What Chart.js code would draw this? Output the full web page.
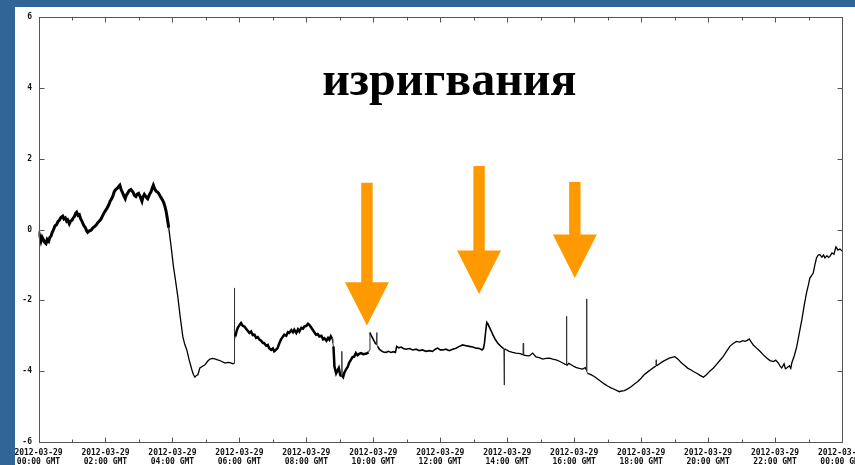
<!DOCTYPE html>
<html>
<head>
<meta charset="utf-8">
<script src="https://cdn.jsdelivr.net/npm/chart.js@4/dist/chart.umd.min.js"></script>
<style>
  html, body { margin: 0; padding: 0; overflow: hidden; width: 855px; height: 465px; background: #316497; }
  #panel { position: absolute; left: 15px; top: 7px; width: 900px; height: 458px; background: #fff; }
  canvas { display: block; }
</style>
</head>
<body>
<div id="panel"><canvas id="chart" width="900" height="458"></canvas></div>
<script>
// Hours since 2012-03-29 00:00 GMT
const hours = [
  0.00, 0.04, 0.075, 0.11, 0.143, 0.18, 0.224, 0.26, 0.305, 0.34, 0.373, 0.41, 0.442, 0.49, 0.544, 0.58, 0.621, 0.67, 0.723, 0.76,
  0.80, 0.84, 0.872, 0.92, 0.96, 1.00, 1.04, 1.07, 1.11, 1.14, 1.18, 1.22, 1.26, 1.30, 1.35, 1.40, 1.44, 1.47, 1.52, 1.57,
  1.62, 1.67, 1.72, 1.77, 1.82, 1.87, 1.92, 1.97, 2.02, 2.07, 2.11, 2.14, 2.18, 2.22, 2.26, 2.29, 2.33, 2.37, 2.40, 2.43,
  2.47, 2.51, 2.55, 2.59, 2.62, 2.66, 2.71, 2.76, 2.80, 2.83, 2.87, 2.91, 2.95, 2.99, 3.04, 3.09, 3.12, 3.16, 3.21, 3.26,
  3.31, 3.36, 3.40, 3.43, 3.47, 3.51, 3.55, 3.59, 3.63, 3.66, 3.70, 3.74, 3.78, 3.81, 3.85, 3.89, 3.96, 4.03, 4.09, 4.16,
  4.23, 4.31, 4.37, 4.43, 4.50, 4.58, 4.63, 4.67, 4.72, 4.76, 4.82, 4.90, 4.97, 5.05, 5.12, 5.20, 5.27, 5.35, 5.42, 5.50,
  5.57, 5.65, 5.72, 5.80, 5.84, 5.85, 5.86, 5.88, 5.92, 5.95, 6.00, 6.05, 6.10, 6.15, 6.20, 6.25, 6.30, 6.35, 6.40, 6.45,
  6.50, 6.55, 6.60, 6.65, 6.70, 6.74, 6.80, 6.85, 6.89, 6.95, 7.00, 7.04, 7.09, 7.14, 7.19, 7.24, 7.29, 7.34, 7.40, 7.45,
  7.49, 7.55, 7.60, 7.64, 7.70, 7.75, 7.79, 7.85, 7.90, 7.94, 8.00, 8.05, 8.09, 8.14, 8.19, 8.24, 8.29, 8.34, 8.39, 8.45,
  8.50, 8.54, 8.60, 8.65, 8.69, 8.73, 8.77, 8.79, 8.81, 8.84, 8.89, 8.93, 8.97, 9.01, 9.04, 9.06, 9.07, 9.10, 9.13, 9.18,
  9.24, 9.28, 9.33, 9.38, 9.43, 9.48, 9.53, 9.58, 9.63, 9.70, 9.78, 9.86, 9.88, 9.90, 9.94, 9.98, 10.02, 10.06, 10.09, 10.10,
  10.11, 10.13, 10.18, 10.23, 10.30, 10.38, 10.45, 10.53, 10.60, 10.66, 10.70, 10.76, 10.83, 10.90, 10.98, 11.08, 11.18, 11.28, 11.37, 11.47,
  11.57, 11.67, 11.77, 11.85, 11.92, 12.00, 12.07, 12.17, 12.27, 12.37, 12.47, 12.57, 12.67, 12.77, 12.87, 12.97, 13.07, 13.17, 13.25, 13.29,
  13.32, 13.36, 13.39, 13.42, 13.46, 13.52, 13.57, 13.64, 13.72, 13.80, 13.87, 13.90, 13.91, 13.92, 13.98, 14.06, 14.16, 14.26, 14.34, 14.41,
  14.47, 14.48, 14.49, 14.57, 14.66, 14.76, 14.86, 14.96, 15.06, 15.16, 15.26, 15.36, 15.46, 15.56, 15.66, 15.72, 15.76, 15.77, 15.78, 15.84,
  15.91, 15.98, 16.05, 16.15, 16.25, 16.33, 16.36, 16.37, 16.38, 16.40, 16.50, 16.60, 16.70, 16.80, 16.90, 17.00, 17.10, 17.20, 17.28, 17.35,
  17.42, 17.50, 17.60, 17.70, 17.80, 17.90, 18.00, 18.09, 18.20, 18.31, 18.40, 18.44, 18.45, 18.46, 18.55, 18.64, 18.74, 18.84, 18.92, 19.01,
  19.10, 19.20, 19.30, 19.40, 19.48, 19.56, 19.66, 19.76, 19.86, 19.95, 20.05, 20.16, 20.26, 20.35, 20.45, 20.55, 20.65, 20.75, 20.85, 20.95,
  21.03, 21.10, 21.17, 21.23, 21.29, 21.35, 21.45, 21.55, 21.65, 21.75, 21.85, 21.95, 22.02, 22.10, 22.15, 22.20, 22.27, 22.31, 22.35, 22.43,
  22.47, 22.50, 22.58, 22.65, 22.72, 22.80, 22.87, 22.94, 23.00, 23.04, 23.09, 23.14, 23.19, 23.24, 23.29, 23.34, 23.40, 23.45, 23.49, 23.55,
  23.60, 23.64, 23.70, 23.76, 23.82, 23.88, 23.94, 24.00
];

// Measured level at each of the hours above
const level = [
  -0.05, -0.20, -0.33, -0.22, -0.28, -0.36, -0.40, -0.28, -0.33, -0.22, -0.19, -0.08, -0.02, 0.10, 0.14, 0.22, 0.26, 0.34, 0.38, 0.30,
  0.33, 0.24, 0.27, 0.16, 0.24, 0.26, 0.33, 0.36, 0.46, 0.49, 0.40, 0.42, 0.30, 0.23, 0.12, 0.05, -0.04, -0.08, -0.04, -0.02,
  0.04, 0.08, 0.12, 0.19, 0.24, 0.30, 0.40, 0.49, 0.56, 0.64, 0.72, 0.80, 0.86, 0.94, 1.06, 1.11, 1.15, 1.18, 1.22, 1.25,
  1.12, 1.04, 0.95, 0.87, 0.96, 1.02, 1.10, 1.13, 1.08, 1.04, 0.96, 0.93, 1.00, 1.02, 0.92, 0.80, 0.92, 0.99, 0.92, 0.87,
  0.98, 1.06, 1.18, 1.25, 1.15, 1.08, 1.06, 1.02, 0.95, 0.90, 0.84, 0.76, 0.64, 0.52, 0.30, 0.05, -0.47, -1.04, -1.42, -1.89,
  -2.45, -3.02, -3.25, -3.40, -3.68, -3.96, -4.10, -4.17, -4.12, -4.10, -3.91, -3.86, -3.82, -3.72, -3.66, -3.64, -3.65, -3.68, -3.70, -3.74,
  -3.77, -3.75, -3.76, -3.79, -3.78, -1.65, -3.10, -3.02, -2.86, -2.78, -2.70, -2.64, -2.72, -2.74, -2.80, -2.86, -2.92, -2.88, -2.98, -2.97,
  -3.06, -3.04, -3.11, -3.14, -3.20, -3.21, -3.28, -3.26, -3.35, -3.40, -3.36, -3.44, -3.40, -3.35, -3.22, -3.11, -3.04, -2.97, -3.00, -2.90,
  -2.92, -2.84, -2.90, -2.83, -2.92, -2.82, -2.88, -2.78, -2.80, -2.74, -2.72, -2.66, -2.69, -2.76, -2.83, -2.90, -2.97, -2.95, -3.02, -3.00,
  -3.10, -3.07, -3.14, -3.06, -3.11, -3.02, -3.09, -3.20, -3.30, -3.87, -4.06, -3.98, -3.91, -4.10, -4.15, -3.44, -4.12, -4.16, -4.06, -3.96,
  -3.87, -3.76, -3.68, -3.60, -3.59, -3.49, -3.55, -3.51, -3.49, -3.52, -3.51, -3.47, -3.40, -2.91, -3.00, -3.07, -3.14, -3.21, -3.24, -2.91,
  -3.26, -3.30, -3.38, -3.42, -3.46, -3.47, -3.44, -3.47, -3.45, -3.47, -3.30, -3.34, -3.32, -3.36, -3.38, -3.36, -3.40, -3.38, -3.42, -3.40,
  -3.44, -3.42, -3.44, -3.38, -3.35, -3.40, -3.40, -3.38, -3.42, -3.38, -3.35, -3.30, -3.26, -3.28, -3.30, -3.32, -3.35, -3.36, -3.40, -3.36,
  -3.21, -2.85, -2.62, -2.66, -2.74, -2.86, -2.97, -3.10, -3.21, -3.29, -3.35, -3.36, -4.39, -3.37, -3.40, -3.44, -3.47, -3.49, -3.50, -3.51,
  -3.54, -3.21, -3.55, -3.56, -3.57, -3.49, -3.60, -3.62, -3.66, -3.64, -3.63, -3.66, -3.68, -3.72, -3.77, -3.80, -3.82, -2.45, -3.84, -3.78,
  -3.82, -3.86, -3.89, -3.92, -3.94, -3.90, -3.96, -1.96, -4.00, -4.06, -4.10, -4.15, -4.22, -4.29, -4.36, -4.42, -4.47, -4.51, -4.55, -4.58,
  -4.56, -4.55, -4.50, -4.44, -4.36, -4.29, -4.20, -4.10, -4.02, -3.94, -3.88, -3.86, -3.68, -3.85, -3.79, -3.73, -3.68, -3.63, -3.61, -3.59,
  -3.66, -3.76, -3.84, -3.92, -3.96, -4.01, -4.06, -4.12, -4.17, -4.10, -4.00, -3.91, -3.80, -3.70, -3.59, -3.44, -3.30, -3.22, -3.16, -3.18,
  -3.14, -3.16, -3.13, -3.09, -3.18, -3.26, -3.35, -3.44, -3.54, -3.63, -3.70, -3.73, -3.69, -3.77, -3.86, -3.91, -3.79, -3.93, -3.91, -3.85,
  -3.92, -3.77, -3.55, -3.30, -2.95, -2.55, -2.15, -1.79, -1.55, -1.37, -1.30, -1.23, -1.00, -0.80, -0.72, -0.71, -0.78, -0.72, -0.80, -0.74,
  -0.79, -0.76, -0.66, -0.70, -0.49, -0.58, -0.55, -0.61
];

// Axis tick labels (every two hours)
const tickHours = [0, 2, 4, 6, 8, 10, 12, 14, 16, 18, 20, 22, 24];
const tickDate = ['2012-03-29', '2012-03-29', '2012-03-29', '2012-03-29', '2012-03-29', '2012-03-29', '2012-03-29',
                  '2012-03-29', '2012-03-29', '2012-03-29', '2012-03-29', '2012-03-29', '2012-03-30'];
const tickTime = ['00:00 GMT', '02:00 GMT', '04:00 GMT', '06:00 GMT', '08:00 GMT', '10:00 GMT', '12:00 GMT',
                  '14:00 GMT', '16:00 GMT', '18:00 GMT', '20:00 GMT', '22:00 GMT', '00:00 GMT'];

// Heading and the eruption markers (hour, shaft top, head base, tip)
const heading = 'изригвания';
const eruptionHour = [9.81, 13.16, 16.02];
const arrowTop     = [1.32, 1.79, 1.34];
const arrowNeck    = [-1.49, -0.59, -0.14];
const arrowTip     = [-2.71, -1.82, -1.37];

// Thicker stroke where the signal is noisy
const noisySpans = [[0, 3.9, 3.0], [5.86, 9.9, 2.5], [9.9, 14.0, 1.6]];
function segWidth(ctx) {
  const a = ctx.p0.parsed.x, b = ctx.p1.parsed.x;
  if (b - a < 0.021) return 1;
  for (const [s, e, w] of noisySpans) if (a >= s && b <= e) return w;
  return 1.3;
}
function segColor(ctx) {
  const a = ctx.p0.parsed.x, b = ctx.p1.parsed.x;
  return (b - a < 0.021) ? '#333' : '#000';
}

const axisFont = { family: '"DejaVu Sans Mono", "Liberation Mono", monospace', weight: 'bold', size: 8, lineHeight: 1.125 };

// Frame with inward tick marks on all four sides
const framePlugin = {
  id: 'frame',
  afterDraw(chart) {
    const { ctx, chartArea: a, scales: { x, y } } = chart;
    const L = Math.round(a.left) + 0.5, R = Math.round(a.right) + 0.5;
    const T = Math.round(a.top) + 0.5, B = Math.round(a.bottom) + 0.5;
    ctx.save();
    ctx.strokeStyle = '#555';
    ctx.lineWidth = 1;
    ctx.strokeRect(L, T, R - L, B - T);
    ctx.beginPath();
    x.ticks.forEach(t => {
      const px = Math.round(x.getPixelForValue(t.value)) + 0.5;
      const len = t.value % 2 === 0 ? 5 : 3;
      ctx.moveTo(px, B); ctx.lineTo(px, B - len);
      ctx.moveTo(px, T); ctx.lineTo(px, T + len);
    });
    y.ticks.forEach(t => {
      const py = Math.round(y.getPixelForValue(t.value)) + 0.5;
      ctx.moveTo(L, py); ctx.lineTo(L + 5, py);
      ctx.moveTo(R, py); ctx.lineTo(R - 5, py);
    });
    ctx.stroke();
    ctx.restore();
  }
};

// Heading text and orange arrows pointing at the eruptions
const overlayPlugin = {
  id: 'overlay',
  afterDatasetsDraw(chart) {
    const { ctx, scales: { x, y } } = chart;
    ctx.save();
    ctx.fillStyle = '#000';
    ctx.font = 'bold 48px "Liberation Serif", "DejaVu Serif", serif';
    ctx.textAlign = 'center';
    ctx.textBaseline = 'alphabetic';
    ctx.fillText(heading, x.getPixelForValue(12.27), y.getPixelForValue(3.8));

    ctx.fillStyle = '#FF9900';
    const shaft = 5.7, head = 22;
    eruptionHour.forEach((h, i) => {
      const cx = x.getPixelForValue(h);
      const top = y.getPixelForValue(arrowTop[i]);
      const neck = y.getPixelForValue(arrowNeck[i]);
      const tip = y.getPixelForValue(arrowTip[i]);
      ctx.beginPath();
      ctx.moveTo(cx - shaft, top);
      ctx.lineTo(cx + shaft, top);
      ctx.lineTo(cx + shaft, neck);
      ctx.lineTo(cx + head, neck);
      ctx.lineTo(cx, tip);
      ctx.lineTo(cx - head, neck);
      ctx.lineTo(cx - shaft, neck);
      ctx.closePath();
      ctx.fill();
    });
    ctx.restore();
  }
};

new Chart(document.getElementById('chart'), {
  type: 'line',
  data: {
    datasets: [{
      data: hours.map((h, i) => ({ x: h, y: level[i] })),
      borderColor: '#000',
      borderWidth: 1.3,
      pointRadius: 0,
      tension: 0,
      segment: { borderWidth: segWidth, borderColor: segColor }
    }]
  },
  options: {
    responsive: false,
    animation: false,
    devicePixelRatio: 1,
    layout: { padding: { left: 0, top: 10, right: 73, bottom: 0 } },
    plugins: { legend: { display: false }, tooltip: { enabled: false }, title: { display: false } },
    scales: {
      x: {
        type: 'linear', min: 0, max: 24,
        afterFit(s) { s.height = 23; s.paddingLeft = 0; s.paddingRight = 0; },
        grid: { display: false, drawTicks: false },
        border: { display: false },
        ticks: {
          stepSize: 1, autoSkip: false, minRotation: 0, maxRotation: 0,
          padding: 6.5, color: '#111', font: axisFont,
          callback(v) {
            const i = tickHours.indexOf(v);
            return i < 0 ? '' : [tickDate[i], tickTime[i]];
          }
        }
      },
      y: {
        type: 'linear', min: -6, max: 6,
        afterFit(s) { s.width = 23.5; s.paddingTop = 0; s.paddingBottom = 0; },
        grid: { display: false, drawTicks: false },
        border: { display: false },
        ticks: { stepSize: 2, padding: 6.5, color: '#111', font: axisFont }
      }
    }
  },
  plugins: [framePlugin, overlayPlugin]
});
</script>
</body>
</html>
